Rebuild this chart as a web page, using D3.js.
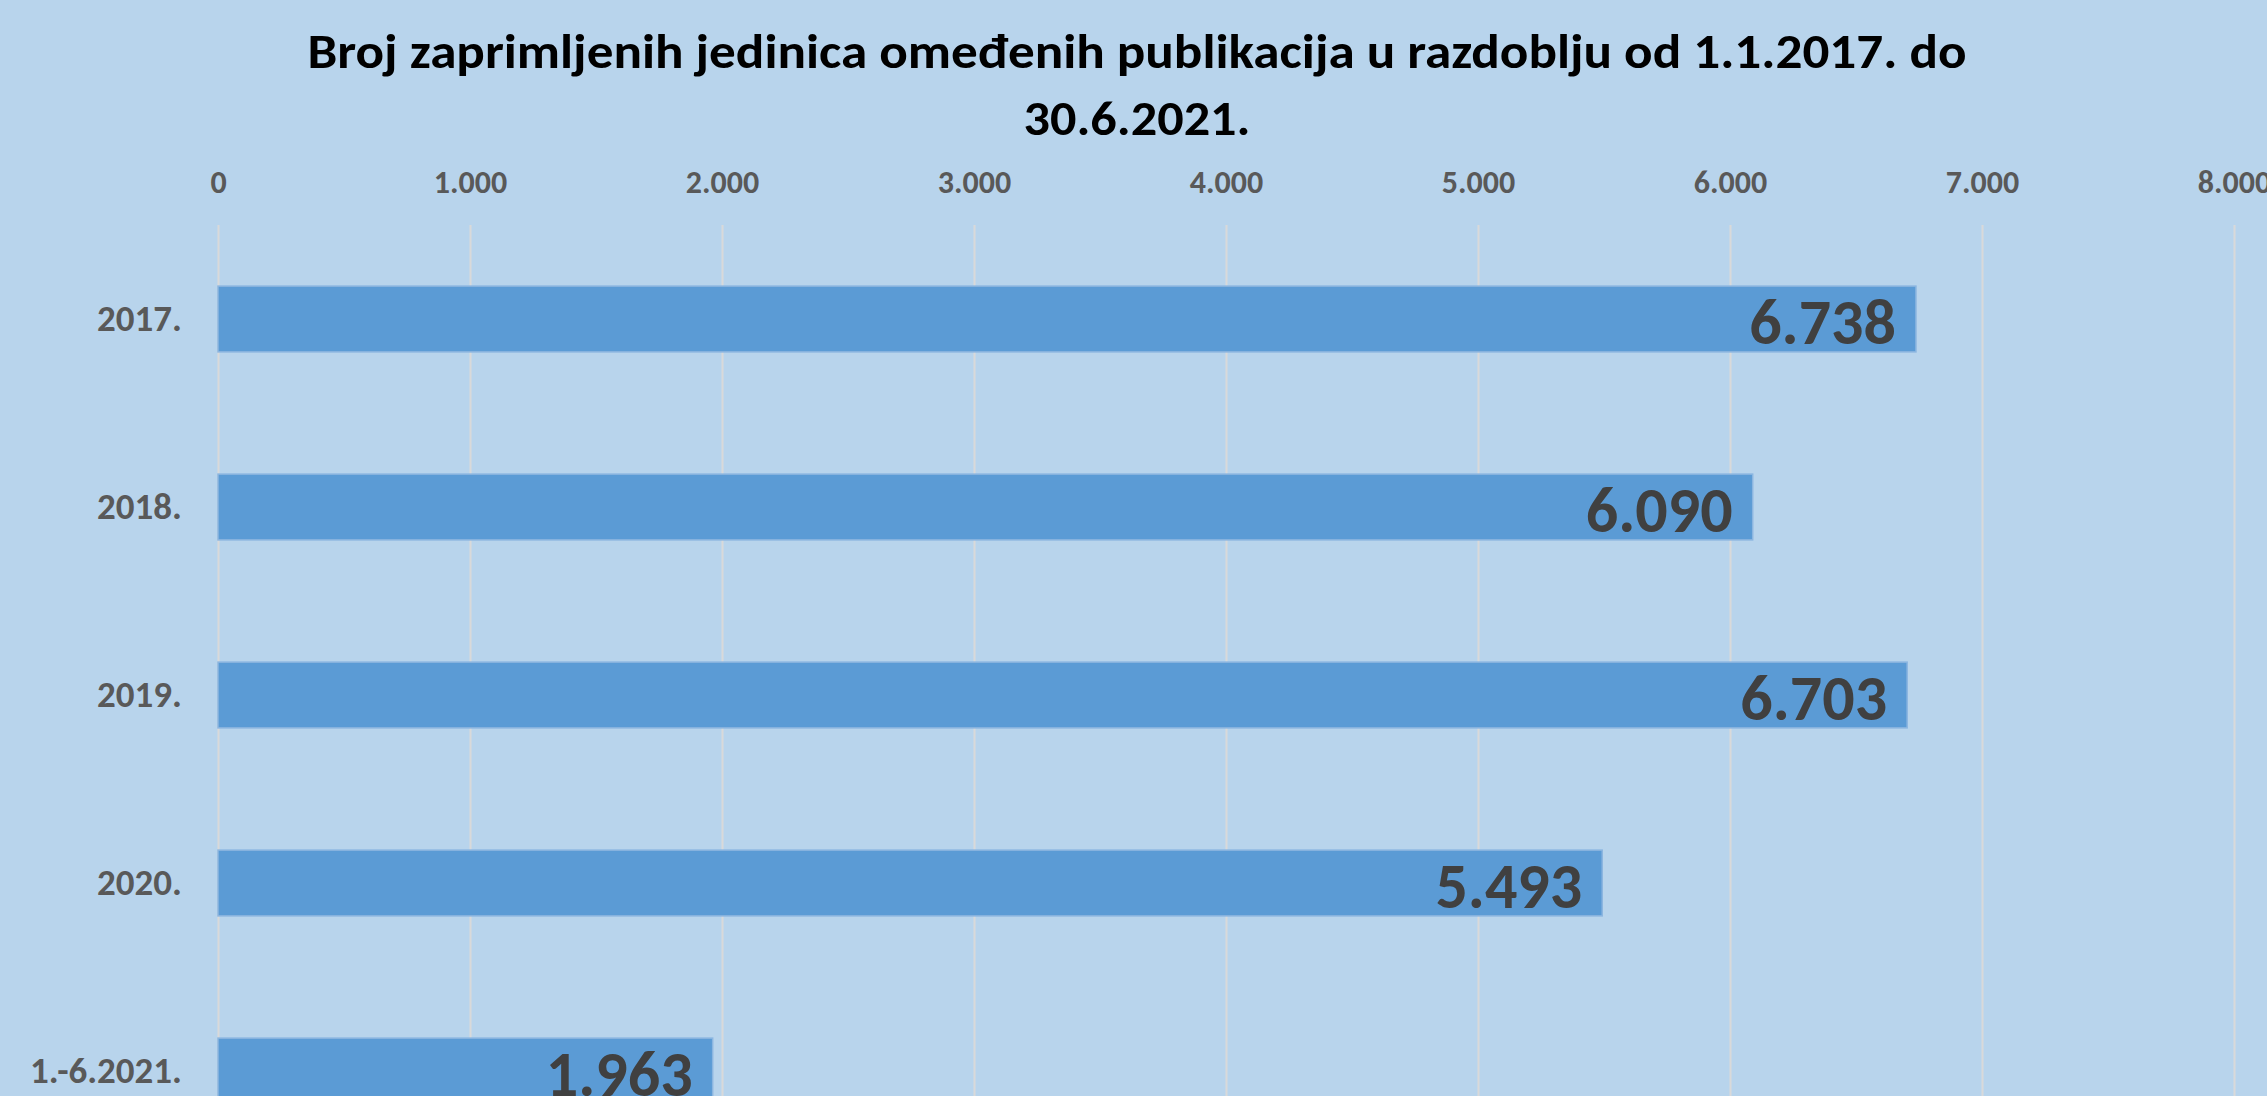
<!DOCTYPE html>
<html>
<head>
<meta charset="utf-8">
<script src="https://cdn.jsdelivr.net/npm/d3@7"></script>
<style>
html, body { margin: 0; padding: 0; overflow: hidden; background: #b8d4ec; }
svg { display: block; }
</style>
</head>
<body>
<div id="chart"></div>
<script>
// ----------------------------------------------------------
// DATA -----------------------------------------------------
// ----------------------------------------------------------
var categories = ["2017.", "2018.", "2019.", "2020.", "1.-6.2021."];
var values = [6738, 6090, 6703, 5493, 1963];
var tick_values = [0, 1000, 2000, 3000, 4000, 5000, 6000, 7000, 8000];
var title_lines = ["Broj zaprimljenih jedinica omeđenih publikacija u razdoblju od 1.1.2017. do", "30.6.2021."];

var rows = categories.map(function(c, i) { return { label: c, value: values[i] }; });

// ----------------------------------------------------------
// STRUCTURE ------------------------------------------------
// ----------------------------------------------------------
var width = 2267, height = 1096;
var font = "Carlito, Calibri, 'Liberation Sans Narrow', 'Open Sans', sans-serif";

var svg = d3.select("#chart").append("svg")
  .attr("width", width)
  .attr("height", height)
  .style("background-color", "#b8d4ec");

// plot area (runs past the bottom edge, as in the picture)
var plot_top = 225;
var plot_bottom = 1165;

// ----------------------------------------------------------
// SCALES ---------------------------------------------------
// ----------------------------------------------------------
var locale = d3.formatLocale({ decimal: ",", thousands: ".", grouping: [3], currency: ["", " kn"] });
var fmt = locale.format(",d");

var x = d3.scaleLinear().domain([0, 8000]).range([218, 2234]);
var y = d3.scaleBand().domain(categories).range([plot_top, plot_bottom])
  .paddingInner(0.65).paddingOuter(0.325);

// ----------------------------------------------------------
// AXES -----------------------------------------------------
// ----------------------------------------------------------
// top axis: labels above, grid lines downward
var x_axis = svg.append("g")
  .attr("class", "x_axis")
  .attr("transform", "translate(0," + plot_top + ")")
  .call(d3.axisTop(x).tickValues(tick_values).tickFormat(fmt)
    .tickSizeInner(-(height - plot_top + 10)).tickSizeOuter(0).tickPadding(32));
x_axis.select(".domain").remove();
x_axis.selectAll(".tick line").attr("stroke", "#d9d9d9").attr("stroke-width", 2);
x_axis.selectAll(".tick text")
  .style("font-family", font).style("font-weight", "bold").style("font-size", "32px")
  .attr("fill", "#595959");

var y_axis = svg.append("g")
  .attr("class", "y_axis")
  .attr("transform", "translate(218,0)")
  .call(d3.axisLeft(y).tickSize(0).tickPadding(36));
y_axis.select(".domain").remove();
y_axis.selectAll(".tick text")
  .style("font-family", font).style("font-weight", "bold").style("font-size", "37px")
  .attr("fill", "#595959");

// ----------------------------------------------------------
// BARS -----------------------------------------------------
// ----------------------------------------------------------
var bars = svg.append("g").attr("class", "bars");
bars.selectAll("rect")
  .data(rows)
  .enter()
  .append("rect")
  .attr("x", x(0))
  .attr("y", function(d) { return y(d.label); })
  .attr("width", function(d) { return x(d.value) - x(0); })
  .attr("height", y.bandwidth())
  .attr("fill", "#5b9bd5")
  .attr("stroke", "#8cb6e0")
  .attr("stroke-width", 1.5);

// value labels, inside the bar end
bars.selectAll("text")
  .data(rows)
  .enter()
  .append("text")
  .attr("x", function(d) { return x(d.value) - 20; })
  .attr("y", function(d) { return y(d.label) + y.bandwidth() / 2 + 25; })
  .attr("text-anchor", "end")
  .style("font-family", font).style("font-weight", "bold").style("font-size", "64px")
  .attr("fill", "#404040")
  .text(function(d) { return fmt(d.value); });

// ----------------------------------------------------------
// TITLE ----------------------------------------------------
// ----------------------------------------------------------
var title = svg.append("g").attr("class", "title");
title.append("text")
  .attr("x", 1137).attr("y", 68)
  .attr("text-anchor", "middle")
  .attr("textLength", 1659).attr("lengthAdjust", "spacingAndGlyphs")
  .style("font-family", font).style("font-weight", "bold").style("font-size", "49px")
  .attr("fill", "#000")
  .text(title_lines[0]);
title.append("text")
  .attr("x", 1137).attr("y", 135)
  .attr("text-anchor", "middle")
  .attr("textLength", 227).attr("lengthAdjust", "spacingAndGlyphs")
  .style("font-family", font).style("font-weight", "bold").style("font-size", "49px")
  .attr("fill", "#000")
  .text(title_lines[1]);
</script>
</body>
</html>
